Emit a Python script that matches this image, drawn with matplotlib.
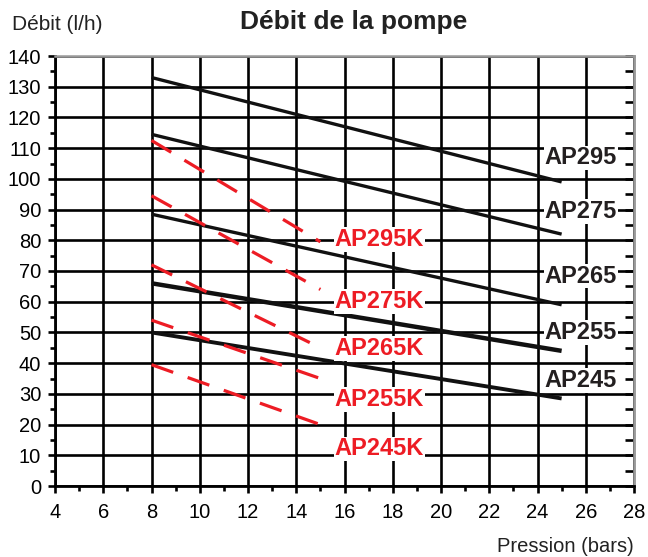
import matplotlib.pyplot as plt
from matplotlib.ticker import MultipleLocator, NullLocator

plt.rcParams['font.family'] = ['Liberation Sans', 'DejaVu Sans']

# pression (bars) au debut et a la fin des courbes
pression_std = [8, 25]
pression_k = [8, 15]

# debit (l/h) des pompes standard : debut, fin
modeles_std = ["AP295", "AP275", "AP265", "AP255", "AP245"]
debit_std = [[133, 99], [114.5, 82], [88.5, 59], [66, 44], [50, 28.5]]

# debit (l/h) des pompes K : debut, fin
modeles_k = ["AP295K", "AP275K", "AP265K", "AP255K", "AP245K"]
debit_k = [[112.5, 79.5], [94.5, 64], [72, 45], [54, 35], [39.5, 20]]

x_ticks = list(range(4, 29, 2))
y_ticks = list(range(0, 141, 10))

# position des etiquettes (ligne de base du texte)
etiq_std_x = 25.8
etiq_std_y = [104.7, 87.3, 66.2, 47.9, 32.2]
etiq_k_x = 17.45
etiq_k_y = [78.2, 58.0, 42.7, 26.0, 10.0]

largeur_std = [2.4, 2.4, 2.4, 3.2, 2.8]
ROUGE = '#ed1c24'
NOIR = '#111111'

fig = plt.figure(figsize=(6.48, 5.57), dpi=100)
ax = fig.add_axes([55 / 648, 1 - 486 / 557, (634 - 55) / 648, (486 - 56) / 557])

ax.set_xlim(4, 28)
ax.set_ylim(0, 140)
ax.set_xticks(x_ticks)
ax.set_yticks(y_ticks)
ax.xaxis.set_minor_locator(MultipleLocator(1))
ax.yaxis.set_minor_locator(MultipleLocator(5))
ax.grid(True, which='major', color='black', linewidth=1.9, zorder=1)
ax.set_axisbelow(True)

# courbes des pompes standard
for debit, lw in zip(debit_std, largeur_std):
    ax.plot(pression_std, debit, color=NOIR, linewidth=lw, solid_capstyle='butt', zorder=3)

# courbes des pompes K (pointilles rouges)
for debit in debit_k:
    ax.plot(pression_k, debit, color=ROUGE, linewidth=2.3, dashes=(7.2, 4.8), dash_capstyle='butt', zorder=3)

boite = dict(facecolor='white', edgecolor='none', pad=0.5)
for nom, y in zip(modeles_std, etiq_std_y):
    ax.text(etiq_std_x, y, nom, ha='center', va='baseline', fontsize=17, fontweight='bold',
            color='#231f20', bbox=boite, zorder=6)
for nom, y in zip(modeles_k, etiq_k_y):
    ax.text(etiq_k_x, y, nom, ha='center', va='baseline', fontsize=17, fontweight='bold',
            color=ROUGE, bbox=boite, zorder=6)

# cadre : gauche et bas en noir, haut et droite en gris
for cote in ['left', 'bottom']:
    ax.spines[cote].set_color('black')
    ax.spines[cote].set_linewidth(2.0)
for cote in ['top', 'right']:
    ax.spines[cote].set_color('#999999')
    ax.spines[cote].set_linewidth(1.8)

ax.tick_params(axis='both', which='major', direction='out', length=5, width=1.9, labelsize=14.5, colors='black')
ax.tick_params(axis='y', which='major', pad=5)
ax.tick_params(axis='x', which='major', pad=7)
ax.tick_params(axis='both', which='minor', direction='out', length=3.5, width=1.9)

# petites graduations vers l'interieur sur le bord droit
droite = ax.secondary_yaxis('right')
droite.yaxis.set_major_locator(NullLocator())
droite.yaxis.set_minor_locator(MultipleLocator(5))
droite.tick_params(which='minor', direction='in', length=6.5, width=1.9, color='black')
droite.spines['right'].set_color('#999999')
droite.spines['right'].set_linewidth(1.8)

fig.text(354 / 648, 1 - 22 / 557, 'Débit de la pompe', ha='center', va='center', fontsize=19,
         fontweight='bold', color='#222222')
fig.text(12 / 648, 1 - 24 / 557, 'Débit (l/h)', ha='left', va='center', fontsize=15, color='#222222')
fig.text(634 / 648, 1 - 546 / 557, 'Pression (bars)', ha='right', va='center', fontsize=14.5, color='#222222')

fig.savefig('out.png', dpi=100)
